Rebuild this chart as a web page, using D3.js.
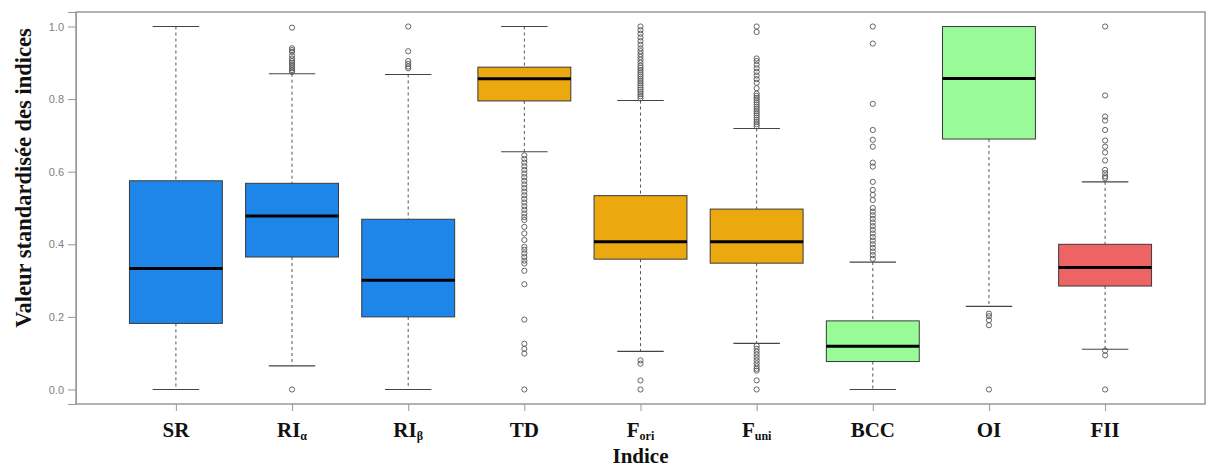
<!DOCTYPE html>
<html><head><meta charset="utf-8">
<script src="https://cdn.jsdelivr.net/npm/d3@7"></script>
<style>body{margin:0;background:#fff}</style>
</head><body>
<svg id="chart" width="1206" height="468"></svg>
<script>
const categories = ["SR","RIα","RIβ","TD","Fori","Funi","BCC","OI","FII"];
const labelMain = ["SR","RI","RI","TD","F","F","BCC","OI","FII"];
const labelSub  = ["","α","β","","ori","uni","","",""];
const q1      = [0.182,0.365,0.200,0.795,0.359,0.348,0.077,0.690,0.285];
const median  = [0.333,0.478,0.301,0.856,0.407,0.407,0.119,0.857,0.336];
const q3      = [0.575,0.568,0.469,0.888,0.534,0.497,0.189,1.000,0.400];
const whiskLo = [0.000,0.065,0.000,0.655,0.105,0.127,0.000,0.229,0.111];
const whiskHi = [1.000,0.870,0.868,1.000,0.796,0.719,0.351,1.000,0.572];
const outliers = [
  [],
  [0.0,0.997,0.94,0.935,0.93,0.92,0.912,0.905,0.9,0.895,0.89,0.885,0.88,0.875],
  [1.0,0.932,0.905,0.897,0.89,0.885],
  [0.645,0.635,0.625,0.615,0.605,0.595,0.585,0.575,0.565,0.555,0.545,0.535,0.525,0.515,0.505,0.495,0.485,0.475,0.467,0.448,0.430,0.412,0.393,0.385,0.375,0.365,0.355,0.347,0.327,0.29,0.1925,0.126,0.112,0.099,0.0],
  [0.802,0.808,0.814,0.82,0.826,0.832,0.838,0.844,0.85,0.856,0.862,0.868,0.874,0.88,0.886,0.892,0.9,0.908,0.916,0.924,0.932,0.94,0.95,0.96,0.97,0.98,0.99,1.0,0.080,0.071,0.025,0.0],
  [0.725,0.731,0.737,0.743,0.749,0.755,0.761,0.767,0.773,0.779,0.785,0.791,0.797,0.803,0.809,0.815,0.83,0.845,0.855,0.865,0.875,0.885,0.895,0.905,0.912,0.985,1.0,0.12,0.112,0.104,0.096,0.088,0.08,0.072,0.064,0.057,0.052,0.025,0.0],
  [1.0,0.953,0.787,0.715,0.688,0.669,0.625,0.614,0.572,0.55,0.536,0.522,0.5,0.49,0.48,0.47,0.46,0.45,0.44,0.43,0.42,0.41,0.4,0.39,0.38,0.37,0.36],
  [0.209,0.202,0.191,0.177,0.0],
  [1.0,0.81,0.752,0.741,0.715,0.686,0.669,0.653,0.631,0.605,0.596,0.587,0.582,0.107,0.094,0.0]
];
const yTicks = [0.0,0.2,0.4,0.6,0.8,1.0];
const palette = ["#1E86E9","#1E86E9","#1E86E9","#EBA90F","#EBA90F","#EBA90F","#98FB98","#98FB98","#EE6363"];

const svg = d3.select("#chart");
const L = 76, R = 1205, T = 12, B = 404;
const x = d3.scaleLinear().domain([0.14, 9.86]).range([L, R]);
const y = d3.scaleLinear().domain([-0.04, 1.04]).range([B, T]);
const bw = (x(1.8) - x(1)) / 2;
const cap = bw / 2;

categories.forEach((c, i) => {
  const cx = x(i + 1);
  const g = svg.append("g");
  g.append("line").attr("x1", cx).attr("x2", cx).attr("y1", y(whiskHi[i])).attr("y2", y(q3[i]))
    .attr("stroke", "#555").attr("stroke-dasharray", "3,3").attr("stroke-width", 1);
  g.append("line").attr("x1", cx).attr("x2", cx).attr("y1", y(q1[i])).attr("y2", y(whiskLo[i]))
    .attr("stroke", "#555").attr("stroke-dasharray", "3,3").attr("stroke-width", 1);
  [whiskHi[i], whiskLo[i]].forEach(v => {
    g.append("line").attr("x1", cx - cap).attr("x2", cx + cap).attr("y1", y(v)).attr("y2", y(v))
      .attr("stroke", "#444").attr("stroke-width", 1.1);
  });
  g.append("rect").attr("x", cx - bw).attr("width", 2 * bw)
    .attr("y", y(q3[i])).attr("height", y(q1[i]) - y(q3[i]))
    .attr("fill", palette[i]).attr("stroke", "#3a3a3a").attr("stroke-width", 1);
  g.append("line").attr("x1", cx - bw).attr("x2", cx + bw).attr("y1", y(median[i])).attr("y2", y(median[i]))
    .attr("stroke", "#000").attr("stroke-width", 3);
  g.selectAll("circle").data(outliers[i]).join("circle")
    .attr("cx", cx).attr("cy", d => y(d)).attr("r", 2.6)
    .attr("fill", "none").attr("stroke", "#555").attr("stroke-width", 0.9);
});

svg.append("rect").attr("x", L).attr("y", T).attr("width", R - L).attr("height", B - T)
  .attr("fill", "none").attr("stroke", "#999").attr("stroke-width", 1.5);

const ya = svg.append("g").attr("transform", `translate(${L},0)`)
  .call(d3.axisLeft(y).tickValues(yTicks).tickFormat(d3.format(".1f")).tickSize(8).tickPadding(4));
ya.select(".domain").attr("stroke", "#999");
ya.selectAll(".tick line").attr("stroke", "#999");
ya.selectAll(".tick text").attr("fill", "#808080").style("font-family", "Liberation Sans, Arial, sans-serif").style("font-size", "11px");

const xa = svg.append("g").attr("transform", `translate(0,${B})`)
  .call(d3.axisBottom(x).tickValues(d3.range(1, categories.length + 1)).tickSize(7).tickFormat(""));
xa.select(".domain").remove();
xa.selectAll(".tick line").attr("stroke", "#999");

const serif = "Liberation Serif, Times New Roman, serif";
categories.forEach((c, i) => {
  const t = svg.append("text").attr("x", x(i + 1)).attr("y", 437).attr("text-anchor", "middle")
    .style("font-family", serif).style("font-weight", "bold")
    .style("font-size", "21px").attr("fill", "#111");
  t.append("tspan").text(labelMain[i]);
  if (labelSub[i]) t.append("tspan").text(labelSub[i]).attr("dy", 3).style("font-size", "12px");
});

svg.append("text").attr("x", (L + R) / 2).attr("y", 463).attr("text-anchor", "middle")
  .style("font-family", serif).style("font-weight", "bold")
  .style("font-size", "21px").attr("fill", "#111").text("Indice");

svg.append("text").attr("transform", "translate(31,178) rotate(-90)").attr("text-anchor", "middle")
  .style("font-family", serif).style("font-weight", "bold")
  .style("font-size", "22.5px").attr("fill", "#111").text("Valeur standardisée des indices");
</script>
</body></html>
